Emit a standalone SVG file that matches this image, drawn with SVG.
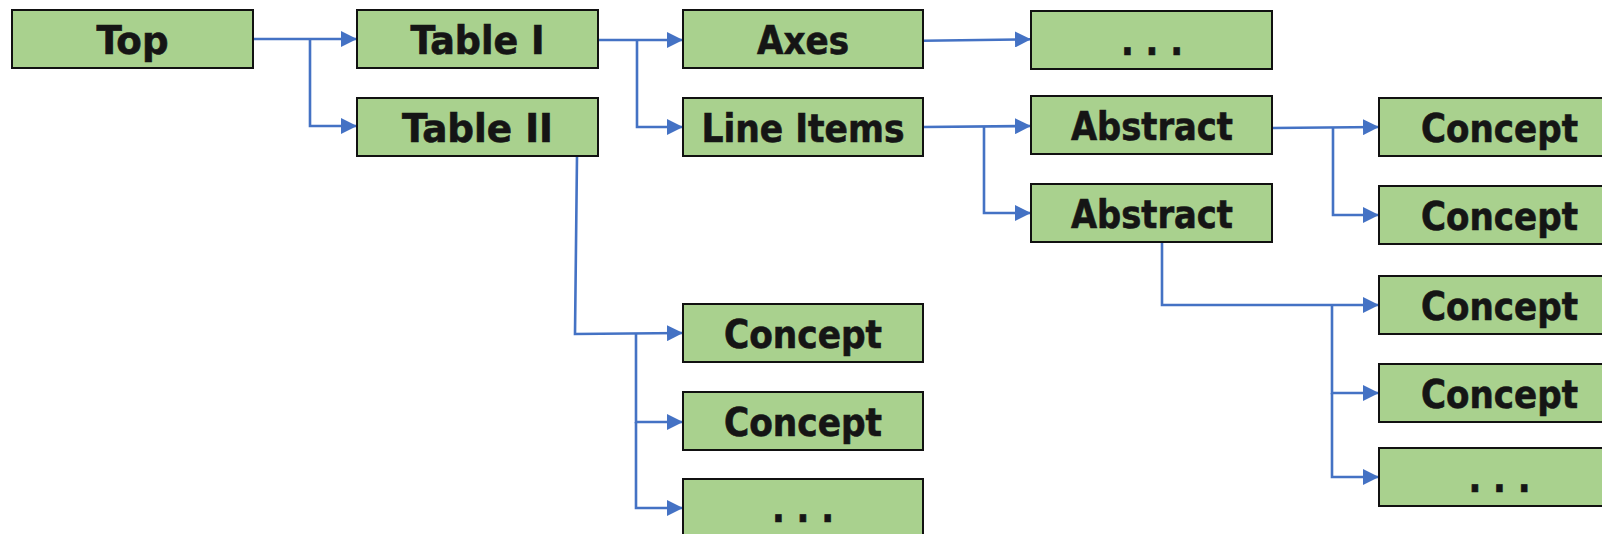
<svg xmlns="http://www.w3.org/2000/svg" width="1602" height="534" viewBox="0 0 1602 534">
<style>
.box{fill:#a9d18e;stroke:#111;stroke-width:2}
.lbl{font-family:"DejaVu Sans Condensed","DejaVu Sans",sans-serif;font-weight:bold;font-size:39px;fill:#151515;stroke:#151515;stroke-width:0.6;text-anchor:middle}
.con{fill:none;stroke:#4472c4;stroke-width:2.6;marker-end:url(#arr)}
</style>
<defs>
<marker id="arr" markerUnits="userSpaceOnUse" markerWidth="17" markerHeight="16" refX="16" refY="8" orient="auto">
<path d="M0,0 L16,8 L0,16 Z" fill="#4472c4"/>
</marker>
</defs>
<rect width="1602" height="534" fill="#fff"/>
<g id="connectors">
<path class="con" d="M253,39 H357"/>
<path class="con" d="M310,39 V126 H357"/>
<path class="con" d="M598,40 H683"/>
<path class="con" d="M637,40 V127 H683"/>
<path class="con" d="M923,40.7 L1031,39.3"/>
<path class="con" d="M923,127 L1031,126"/>
<path class="con" d="M984,126 V213 H1031"/>
<path class="con" d="M1272,128 L1379,127"/>
<path class="con" d="M1333,127.5 V215 H1379"/>
<path class="con" d="M1162,242 V305 H1379"/>
<path class="con" d="M1332,305 V393 H1379"/>
<path class="con" d="M1332,393 V477 H1379"/>
<path class="con" d="M577,156 L575,334 L683,333"/>
<path class="con" d="M636,333 V422 H683"/>
<path class="con" d="M636,422 V508 H683"/>
</g>
<g id="n-top"><rect class="box" x="12" y="10" width="241" height="58"/><text class="lbl" x="132.5" y="54" textLength="72" lengthAdjust="spacingAndGlyphs">Top</text></g>
<g id="n-table1"><rect class="box" x="357" y="10" width="241" height="58"/><text class="lbl" x="477.5" y="54" textLength="134" lengthAdjust="spacingAndGlyphs">Table I</text></g>
<g id="n-table2"><rect class="box" x="357" y="98" width="241" height="58"/><text class="lbl" x="477.5" y="141.5" textLength="151" lengthAdjust="spacingAndGlyphs">Table II</text></g>
<g id="n-axes"><rect class="box" x="683" y="10" width="240" height="58"/><text class="lbl" x="803" y="54" textLength="92" lengthAdjust="spacingAndGlyphs">Axes</text></g>
<g id="n-lineitems"><rect class="box" x="683" y="98" width="240" height="58"/><text class="lbl" x="803" y="141.5" textLength="203" lengthAdjust="spacingAndGlyphs">Line Items</text></g>
<g id="n-dots1"><rect class="box" x="1031" y="11" width="241" height="58"/><text class="lbl" x="1152" y="54.5" textLength="62" lengthAdjust="spacingAndGlyphs">. . .</text></g>
<g id="n-abstract1"><rect class="box" x="1031" y="96" width="241" height="58"/><text class="lbl" x="1152" y="139.5" textLength="162" lengthAdjust="spacingAndGlyphs">Abstract</text></g>
<g id="n-abstract2"><rect class="box" x="1031" y="184" width="241" height="58"/><text class="lbl" x="1152" y="227.5" textLength="162" lengthAdjust="spacingAndGlyphs">Abstract</text></g>
<g id="n-concept-r1"><rect class="box" x="1379" y="98" width="241" height="58"/><text class="lbl" x="1499.5" y="141.5" textLength="157" lengthAdjust="spacingAndGlyphs">Concept</text></g>
<g id="n-concept-r2"><rect class="box" x="1379" y="186" width="241" height="58"/><text class="lbl" x="1499.5" y="229.5" textLength="157" lengthAdjust="spacingAndGlyphs">Concept</text></g>
<g id="n-concept-r3"><rect class="box" x="1379" y="276" width="241" height="58"/><text class="lbl" x="1499.5" y="320" textLength="157" lengthAdjust="spacingAndGlyphs">Concept</text></g>
<g id="n-concept-r4"><rect class="box" x="1379" y="364" width="241" height="58"/><text class="lbl" x="1499.5" y="407.5" textLength="157" lengthAdjust="spacingAndGlyphs">Concept</text></g>
<g id="n-dots-r"><rect class="box" x="1379" y="448" width="241" height="58"/><text class="lbl" x="1499.5" y="492" textLength="62" lengthAdjust="spacingAndGlyphs">. . .</text></g>
<g id="n-concept-m1"><rect class="box" x="683" y="304" width="240" height="58"/><text class="lbl" x="803" y="347.5" textLength="158" lengthAdjust="spacingAndGlyphs">Concept</text></g>
<g id="n-concept-m2"><rect class="box" x="683" y="392" width="240" height="58"/><text class="lbl" x="803" y="435.5" textLength="158" lengthAdjust="spacingAndGlyphs">Concept</text></g>
<g id="n-dots-m"><rect class="box" x="683" y="479" width="240" height="58"/><text class="lbl" x="803" y="522" textLength="62" lengthAdjust="spacingAndGlyphs">. . .</text></g>
</svg>
